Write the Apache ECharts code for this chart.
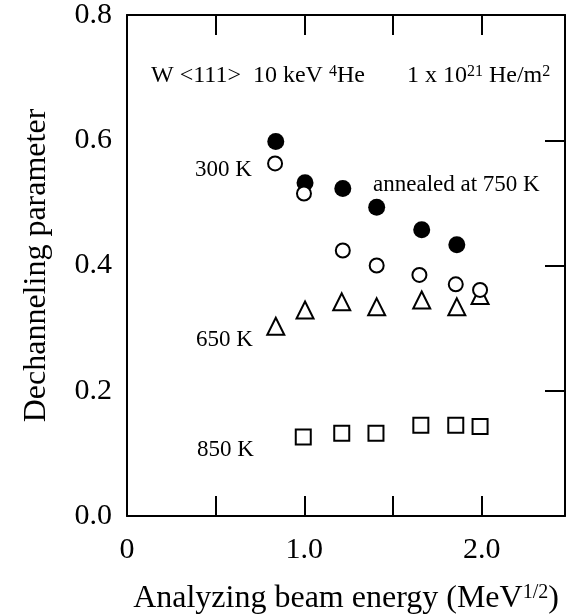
<!DOCTYPE html>
<html>
<head>
<meta charset="utf-8">
<script src="https://cdn.jsdelivr.net/npm/echarts@6/dist/echarts.min.js"></script>
<style>
html, body { margin: 0; padding: 0; background: #fff; }
#chart { width: 567px; height: 615px; }
</style>
</head>
<body>
<div id="chart"></div>
<script>
// 横轴: analyzing beam energy (MeV^1/2)
var xTicks = [0, 1.0, 2.0];

// annealed at 750 K (filled circles)
var annealX = [0.839, 1.004, 1.217, 1.408, 1.662, 1.860];
var annealY = [0.598, 0.532, 0.523, 0.493, 0.457, 0.433];

// 300 K (open circles)
var k300X = [0.835, 0.998, 1.217, 1.408, 1.649, 1.854, 1.991];
var k300Y = [0.563, 0.515, 0.424, 0.400, 0.385, 0.370, 0.361];

// 650 K (triangles)
var k650X = [0.839, 1.004, 1.211, 1.408, 1.662, 1.860, 1.991];
var k650Y = [0.303, 0.329, 0.342, 0.334, 0.345, 0.334, 0.352];

// 850 K (squares)
var k850X = [0.994, 1.211, 1.404, 1.657, 1.854, 1.991];
var k850Y = [0.126, 0.132, 0.132, 0.145, 0.145, 0.143];

function pairs(xs, ys) {
	var out = [];
	for (var i = 0; i < xs.length; i++) {
		out.push([xs[i], ys[i]]);
	}
	return out;
}

var FONT = "'Liberation Serif', 'Times New Roman', serif";
var LINE = { onZero: false, lineStyle: { color: '#000', width: 2 } };
var TICK = { show: true, inside: true, length: 20, lineStyle: { color: '#000', width: 2 } };

var myChart = echarts.init(document.getElementById('chart'), null, { renderer: 'canvas' });

var option = {
	backgroundColor: '#fff',
	animation: false,
	grid: { left: 127, right: 2, top: 15, bottom: 99, outerBoundsMode: 'none', containLabel: false },
	xAxis: [{
		type: 'value',
		position: 'bottom',
		min: 0,
		max: 2.47,
		interval: 0.5,
		name: '{n|Analyzing beam energy (MeV}{s|1/2}{n|)}',
		nameLocation: 'middle',
		nameGap: 67,
		nameTextStyle: {
			rich: {
				n: { fontFamily: FONT, fontSize: 32, color: '#000' },
				s: { fontFamily: FONT, fontSize: 20, color: '#000', verticalAlign: 'top' }
			}
		},
		axisLine: LINE,
		axisTick: TICK,
		axisLabel: {
			margin: 19,
			showMaxLabel: false,
			fontFamily: FONT,
			fontSize: 30,
			color: '#000',
			formatter: function(v) {
				for (var i = 0; i < xTicks.length; i++) {
					if (Math.abs(v - xTicks[i]) < 1e-6) {
						return v === 0 ? '0' : v.toFixed(1);
					}
				}
				return '';
			}
		},
		splitLine: { show: false }
	}, {
		type: 'value',
		position: 'top',
		min: 0,
		max: 2.47,
		interval: 0.5,
		axisLine: LINE,
		axisTick: TICK,
		axisLabel: { show: false },
		splitLine: { show: false }
	}],
	yAxis: [{
		type: 'value',
		position: 'left',
		min: 0,
		max: 0.8,
		interval: 0.2,
		name: 'Dechanneling parameter',
		nameLocation: 'middle',
		nameGap: 74,
		nameTextStyle: { fontFamily: FONT, fontSize: 32, color: '#000' },
		axisLine: LINE,
		axisTick: { show: false },
		axisLabel: {
			margin: 15,
			fontFamily: FONT,
			fontSize: 30,
			color: '#000',
			formatter: function(v) { return v.toFixed(1); }
		},
		splitLine: { show: false }
	}, {
		type: 'value',
		position: 'right',
		min: 0,
		max: 0.8,
		interval: 0.2,
		axisLine: LINE,
		axisTick: TICK,
		axisLabel: { show: false },
		splitLine: { show: false }
	}],
	series: [{
		name: '650 K',
		type: 'scatter',
		symbol: 'triangle',
		symbolSize: 17,
		z: 2,
		itemStyle: { color: '#fff', borderColor: '#000', borderWidth: 2, opacity: 1 },
		data: pairs(k650X, k650Y)
	}, {
		name: 'annealed at 750 K',
		type: 'scatter',
		symbol: 'circle',
		symbolSize: 17,
		z: 3,
		itemStyle: { color: '#000', borderWidth: 0, opacity: 1 },
		data: pairs(annealX, annealY)
	}, {
		name: '300 K',
		type: 'scatter',
		symbol: 'circle',
		symbolSize: 14,
		z: 4,
		itemStyle: { color: '#fff', borderColor: '#000', borderWidth: 2, opacity: 1 },
		data: pairs(k300X, k300Y)
	}, {
		name: '850 K',
		type: 'scatter',
		symbol: 'rect',
		symbolSize: 15,
		z: 2,
		itemStyle: { color: '#fff', borderColor: '#000', borderWidth: 2, opacity: 1 },
		data: pairs(k850X, k850Y)
	}],
	graphic: [{
		type: 'text',
		x: 151,
		y: 76,
		style: {
			text: '{a|W <111>}{b|  10 keV }{s|4}{b|He       1 x 10}{s|21}{b| He/m}{s|2}',
			verticalAlign: 'middle',
			rich: {
				a: { fontFamily: FONT, fontSize: 24, fill: '#000' },
				b: { fontFamily: FONT, fontSize: 24, fill: '#000' },
				s: { fontFamily: FONT, fontSize: 16, fill: '#000', verticalAlign: 'top' }
			}
		}
	}, {
		type: 'text', x: 195, y: 170,
		style: { text: '300 K', fontFamily: FONT, fontSize: 23, fill: '#000', verticalAlign: 'middle' }
	}, {
		type: 'text', x: 373, y: 185,
		style: { text: 'annealed at 750 K', fontFamily: FONT, fontSize: 23, fill: '#000', verticalAlign: 'middle' }
	}, {
		type: 'text', x: 196, y: 340,
		style: { text: '650 K', fontFamily: FONT, fontSize: 23, fill: '#000', verticalAlign: 'middle' }
	}, {
		type: 'text', x: 197, y: 450,
		style: { text: '850 K', fontFamily: FONT, fontSize: 23, fill: '#000', verticalAlign: 'middle' }
	}]
};

// 使用刚指定的配置项和数据显示图表。
myChart.setOption(option);
</script>
</body>
</html>
